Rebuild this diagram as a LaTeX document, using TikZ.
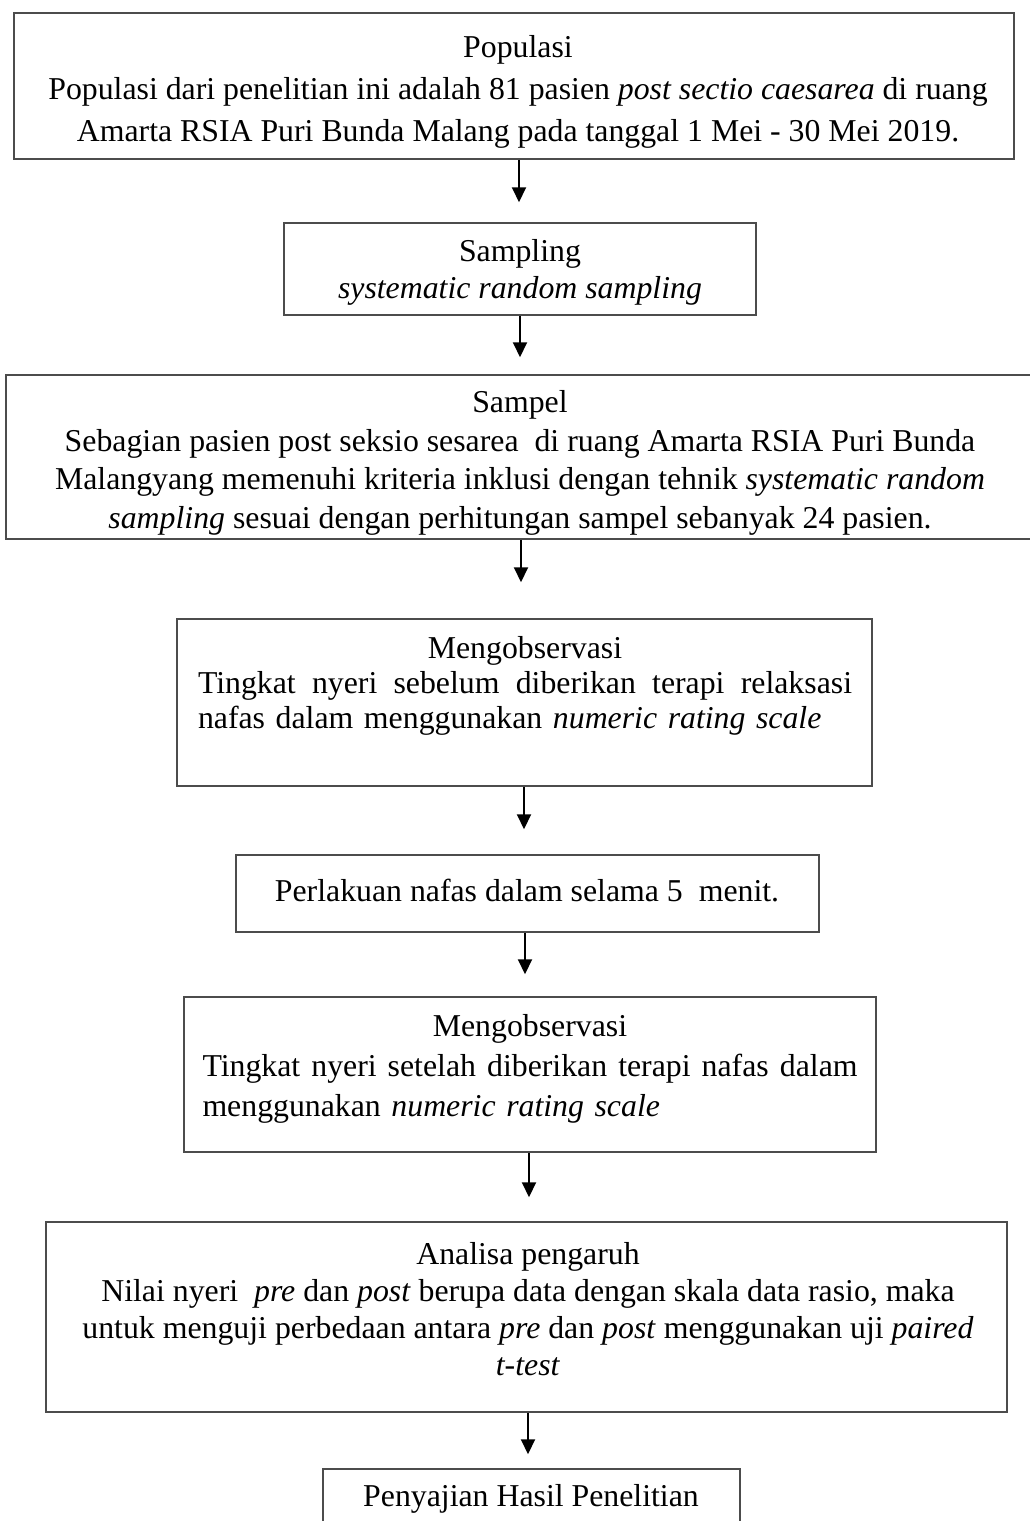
\documentclass[tikz,border=0pt]{standalone}
\usepackage{fontspec}
\setmainfont{Liberation Serif}
\usetikzlibrary{arrows.meta}
\begin{document}
\begin{tikzpicture}[x=1pt,y=-1pt,
  boxst/.style={draw=black!70, line width=1.5pt, inner sep=0pt, rectangle},
  txt/.style={font=\fontsize{31.8}{37}\selectfont, inner sep=0pt, align=center},
  arr/.style={line width=2pt, -{Triangle[length=15pt,width=14pt]}}]
\useasboundingbox (0,0) rectangle (1029,1521);
\fill[white] (0,0) rectangle (1029,1521);
% boxes
\node[boxst, minimum width=1000pt, minimum height=146pt] (b1) at (514,86) {};
\node[boxst, minimum width=472pt, minimum height=92pt] (b2) at (520,269) {};
\node[boxst, minimum width=1034pt, minimum height=164pt] (b3) at (523,457) {};
\node[boxst, minimum width=695pt, minimum height=167pt] (b4) at (524.5,702.5) {};
\node[boxst, minimum width=583pt, minimum height=77pt] (b5) at (527.5,893.5) {};
\node[boxst, minimum width=692pt, minimum height=155pt] (b6) at (530,1074.5) {};
\node[boxst, minimum width=961pt, minimum height=190pt] (b7) at (526.5,1317) {};
\node[boxst, minimum width=417pt, minimum height=71pt] (b8) at (531.5,1504.5) {};
% texts
\node[txt, font=\fontsize{31.8}{42}\selectfont] (t1) at (518,92) {Populasi\\Populasi dari penelitian ini adalah 81 pasien \textit{post sectio caesarea} di ruang\\Amarta RSIA Puri Bunda Malang pada tanggal 1 Mei - 30 Mei 2019.};
\node[txt] (t2) at (520,272) {Sampling\\\textit{systematic random sampling}};
\node[txt, font=\fontsize{31.8}{38.5}\selectfont] (t3) at (520,463) {Sampel\\Sebagian pasien post seksio sesarea\ \ di ruang Amarta RSIA Puri Bunda\\Malangyang memenuhi kriteria inklusi dengan tehnik \textit{systematic random}\\\textit{sampling} sesuai dengan perhitungan sampel sebanyak 24 pasien.};
\node[txt, align=left, text width=654pt, font=\fontsize{31.8}{35}\selectfont] (t4) at (525,686) {\makebox[654pt]{Mengobservasi}\\\makebox[654pt]{Tingkat\hfill nyeri\hfill sebelum\hfill diberikan\hfill terapi\hfill relaksasi}\\nafas dalam menggunakan \textit{numeric rating scale}};
\node[txt] (t5) at (527,891) {Perlakuan nafas dalam selama 5\ \ menit.};
\node[txt, align=left, text width=655pt, font=\fontsize{31.8}{40}\selectfont] (t6) at (530,1069) {\makebox[655pt]{Mengobservasi}\\\makebox[655pt]{Tingkat\hfill nyeri\hfill setelah\hfill diberikan\hfill terapi\hfill nafas\hfill dalam}\\menggunakan \textit{numeric rating scale}};
\node[txt] (t7) at (528,1309) {Analisa pengaruh\\Nilai nyeri\ \ \textit{pre} dan \textit{post} berupa data dengan skala data rasio, maka\\untuk menguji perbedaan antara \textit{pre} dan \textit{post} menggunakan uji \textit{paired}\\\textit{t-test}};
\node[txt] (t8) at (531,1499) {Penyajian Hasil Penelitian};
% arrows
\coordinate (x1) at (519,0);
\coordinate (x2) at (520,0);
\coordinate (x3) at (521,0);
\coordinate (x4) at (524,0);
\coordinate (x5) at (525,0);
\coordinate (x6) at (529,0);
\coordinate (x7) at (528,0);
\draw[arr, shorten >=20pt] (b1.south -| x1) -- (b2.north -| x1);
\draw[arr, shorten >=17pt] (b2.south -| x2) -- (b3.north -| x2);
\draw[arr, shorten >=36pt] (b3.south -| x3) -- (b4.north -| x3);
\draw[arr, shorten >=25pt] (b4.south -| x4) -- (b5.north -| x4);
\draw[arr, shorten >=22pt] (b5.south -| x5) -- (b6.north -| x5);
\draw[arr, shorten >=24pt] (b6.south -| x6) -- (b7.north -| x6);
\draw[arr, shorten >=14pt] (b7.south -| x7) -- (b8.north -| x7);
\end{tikzpicture}
\end{document}
